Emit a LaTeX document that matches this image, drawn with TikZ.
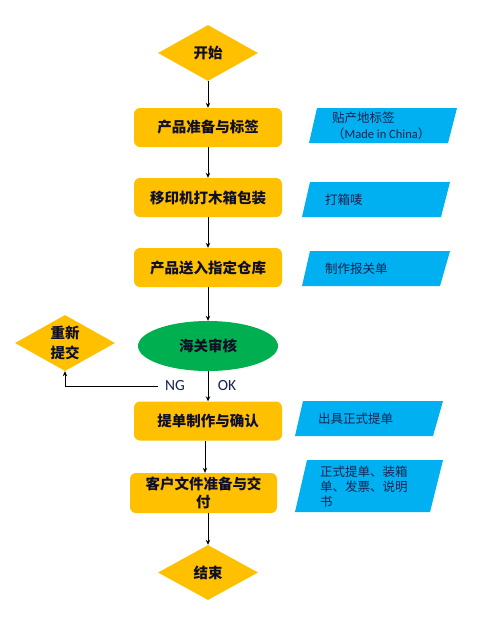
\documentclass[tikz,border=0pt]{standalone}
\usepackage{fontspec}
\newfontfamily\cjk{Noto Sans CJK SC}
\newfontfamily\lat{Carlito}
\usetikzlibrary{shapes.geometric,arrows.meta}
\definecolor{boxy}{HTML}{FFC000}
\definecolor{paracy}{HTML}{00B0F0}
\definecolor{ovgreen}{HTML}{00B050}
\definecolor{txtdark}{RGB}{15,15,40}
\definecolor{txtnavy}{RGB}{25,35,80}
\tikzset{
  x=1pt, y=-1pt,
  stepbox/.style={fill=boxy, rounded corners=6pt, minimum width=148pt, minimum height=39pt,
    inner sep=2pt, align=center, text=txtdark, font=\cjk\bfseries\fontsize{14.5}{18}\selectfont},
  dia/.style={diamond, fill=boxy, minimum width=100pt, minimum height=56pt, aspect=1.8, inner sep=0pt,
    align=center, text=txtdark, font=\cjk\bfseries\fontsize{14.5}{20}\selectfont},
  para/.style={fill=paracy},
  ptext/.style={anchor=west, inner sep=0pt, align=left, text=txtnavy,
    font=\cjk\fontsize{12.5}{15.5}\selectfont},
  arr/.style={draw=black, line width=0.8pt, -{Stealth[length=5pt,width=4.5pt]}},
  lbl/.style={inner sep=0pt, text=txtnavy, font=\lat\fontsize{15.5}{18}\selectfont}
}
\begin{document}
\begin{tikzpicture}
\useasboundingbox[fill=white] (0,0) rectangle (479,622);
% main flow
\node[dia, minimum width=100pt, minimum height=56pt] (start) at (208,53) {开始};
\node[stepbox] (b1) at (208,127.5) {产品准备与标签};
\node[stepbox] (b2) at (208,197.5) {移印机打木箱包装};
\node[stepbox] (b3) at (208,267.5) {产品送入指定仓库};
\node[ellipse, fill=ovgreen, minimum width=140pt, minimum height=50pt, inner sep=0pt,
      text=txtdark, font=\cjk\bfseries\fontsize{14.5}{18}\selectfont] (rev) at (208,346) {海关审核};
\node[dia] (resub) at (65,343) {重新\\提交};
\node[stepbox] (b4) at (208,421) {提单制作与确认};
\node[stepbox, minimum width=147pt, minimum height=40pt] (b5) at (203.5,493) {客户文件准备与交\\付};
\node[dia, minimum height=55pt] (stop) at (208,572.5) {结束};
% labels
\node[lbl] (ng) at (175,386) {NG};
\node[lbl] (ok) at (227,386) {OK};
\coordinate (ngs) at (158,386);
\coordinate (ngc) at (65,386);
% arrows
\draw[arr] (start.south) -- (b1.north);
\draw[arr] (b1.south) -- (b2.north);
\draw[arr] (b2.south) -- (b3.north);
\draw[arr] (b3.south) -- (rev.north);
\draw[arr] (rev.south) -- (b4.north);
\draw[arr] (ngs) -- (ngc) -- (resub.south);
\draw[arr] (b4.south -| 205,0) -- (b5.north -| 205,0);
\draw[arr] (b5.south -| 208,0) -- (stop.north);
% parallelograms
\fill[para] (317,108) -- (457,108) -- (448,143) -- (309,143) -- cycle;
\node[ptext] (p1) at (332,126) {贴产地标签\\（{\lat Made in China}）};
\fill[para] (310,182) -- (450,182) -- (441,217) -- (302,217) -- cycle;
\node[ptext] (p2) at (325,200) {打箱唛};
\fill[para] (310,251) -- (450,251) -- (440,286) -- (302,286) -- cycle;
\node[ptext] (p3) at (325,268.5) {制作报关单};
\fill[para] (303,401) -- (443,401) -- (433,436) -- (295,436) -- cycle;
\node[ptext] (p4) at (318,419) {出具正式提单};
\fill[para] (307,460) -- (443,460) -- (430,512) -- (295,512) -- cycle;
\node[ptext, font=\cjk\fontsize{12.5}{15}\selectfont] (p5) at (320,487) {正式提单、装箱\\单、发票、说明\\书};
\end{tikzpicture}
\end{document}
